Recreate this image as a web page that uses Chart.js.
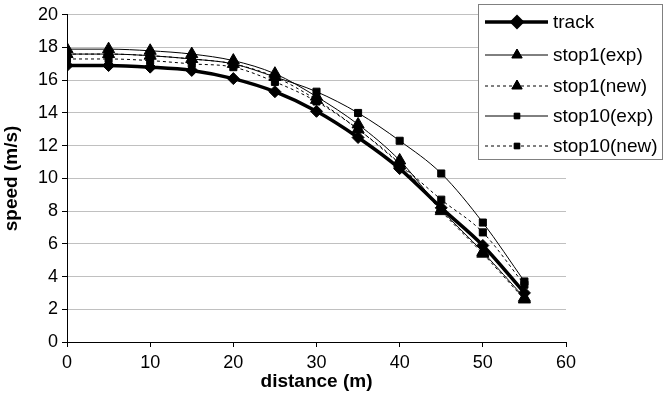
<!DOCTYPE html>
<html>
<head>
<meta charset="utf-8">
<script src="https://cdn.jsdelivr.net/npm/chart.js@4.4.1/dist/chart.umd.min.js"></script>
<style>
  html, body { margin: 0; padding: 0; background: #fff; }
  #wrap { width: 664px; height: 418px; }
</style>
</head>
<body>
<div id="wrap"><canvas id="grafik"></canvas></div>
<script>
// jarak (m) dan kecepatan (m/s) per seri
var distance = [0, 5, 10, 15, 20, 25, 30, 35, 40, 45, 50, 55];
var track      = [16.9, 16.9, 16.8, 16.6, 16.1, 15.3, 14.1, 12.5, 10.6, 8.2, 5.9, 3.0];
var stop1Exp   = [17.9, 17.9, 17.8, 17.6, 17.2, 16.4, 15.0, 13.3, 11.1, 8.1, 5.5, 2.7];
var stop1New   = [17.6, 17.6, 17.5, 17.3, 17.0, 16.2, 14.8, 13.0, 10.9, 8.0, 5.4, 2.6];
var stop10Exp  = [17.6, 17.6, 17.5, 17.3, 17.0, 16.2, 15.3, 14.0, 12.3, 10.3, 7.3, 3.7];
var stop10New  = [17.3, 17.3, 17.2, 17.0, 16.8, 15.9, 14.7, 13.0, 10.9, 8.7, 6.7, 3.5];
var xTicks = [0, 10, 20, 30, 40, 50, 60];
var yTicks = [0, 2, 4, 6, 8, 10, 12, 14, 16, 18, 20];

function toPoints(arr) {
    return arr.map(function (v, i) { return { x: distance[i], y: v }; });
}

function seri(label, values, style, width, dash, radius) {
    return {
        label: label,
        data: toPoints(values),
        borderColor: '#000',
        backgroundColor: '#000',
        borderWidth: width,
        borderDash: dash,
        pointStyle: style,
        pointRadius: radius,
        pointBorderWidth: 1,
        pointHoverRadius: radius,
        cubicInterpolationMode: 'monotone'
    };
}

var data = {
    datasets: [
        seri('track', track, 'rectRot', 3.5, [], 6),
        seri('stop1(exp)', stop1Exp, 'triangle', 1, [], 7),
        seri('stop1(new)', stop1New, 'triangle', 1, [3, 3], 7),
        seri('stop10(exp)', stop10Exp, 'rect', 1, [], 5),
        seri('stop10(new)', stop10New, 'rect', 1, [3, 3], 5)
    ]
};

// legenda kotak di kanan atas
var legendBox = {
    id: 'legendBox',
    afterDraw: function (chart) {
        var ctx = chart.ctx;
        var x0 = 478, y0 = 4, w = 185, h = 156;
        ctx.save();
        ctx.fillStyle = '#fff';
        ctx.fillRect(x0, y0, w, h);
        ctx.strokeStyle = '#808080';
        ctx.lineWidth = 1;
        ctx.strokeRect(x0 + 0.5, y0 + 0.5, w - 1, h - 1);
        var rows = [22, 55, 86, 116, 146];
        chart.data.datasets.forEach(function (ds, i) {
            var y = rows[i];
            ctx.strokeStyle = '#000';
            ctx.lineWidth = ds.borderWidth;
            ctx.setLineDash(ds.borderDash);
            ctx.beginPath();
            ctx.moveTo(485, y);
            ctx.lineTo(548, y);
            ctx.stroke();
            ctx.setLineDash([]);
            ctx.fillStyle = '#000';
            Chart.helpers.drawPoint(ctx, {
                pointStyle: ds.pointStyle,
                radius: ds.pointRadius - 1,
                borderWidth: 1
            }, 517, y);
            ctx.fill();
            ctx.font = '19px "Liberation Sans"';
            ctx.textBaseline = 'middle';
            ctx.fillText(ds.label, 553, y + 1);
        });
        ctx.restore();
    }
};

var config = {
    type: 'line',
    data: data,
    options: {
        responsive: true,
        maintainAspectRatio: false,
        animation: false,
        layout: { padding: { top: 13, right: 98, left: 0, bottom: 0 } },
        plugins: {
            legend: { display: false },
            tooltip: { enabled: false }
        },
        scales: {
            x: {
                type: 'linear',
                min: 0,
                max: 60,
                afterBuildTicks: function (axis) {
                    axis.ticks = xTicks.map(function (v) { return { value: v }; });
                },
                afterFit: function (axis) { axis.height = 76; },
                grid: {
                    drawOnChartArea: false,
                    drawTicks: true,
                    tickLength: 5,
                    tickColor: '#000'
                },
                border: { color: '#000', width: 1 },
                ticks: {
                    color: '#000',
                    font: { family: 'Liberation Sans', size: 18 },
                    padding: 5,
                    maxRotation: 0
                },
                title: {
                    display: true,
                    text: 'distance (m)',
                    color: '#000',
                    font: { family: 'Liberation Sans', size: 19, weight: 'bold' },
                    padding: { top: 0, bottom: 25 }
                }
            },
            y: {
                min: 0,
                max: 20,
                afterBuildTicks: function (axis) {
                    axis.ticks = yTicks.map(function (v) { return { value: v }; });
                },
                afterFit: function (axis) { axis.width = 67; },
                grid: {
                    color: '#c0c0c0',
                    lineWidth: 1,
                    drawTicks: true,
                    tickLength: 5,
                    tickColor: '#000'
                },
                border: { color: '#000', width: 1 },
                ticks: {
                    color: '#000',
                    font: { family: 'Liberation Sans', size: 18 },
                    padding: 4
                },
                title: {
                    display: true,
                    text: 'speed (m/s)',
                    color: '#000',
                    font: { family: 'Liberation Sans', size: 19, weight: 'bold' },
                    padding: { top: 0, bottom: 0 }
                }
            }
        }
    },
    plugins: [legendBox]
};

var canvas = document.getElementById('grafik');
var myChart = new Chart(canvas, config);
</script>
</body>
</html>
